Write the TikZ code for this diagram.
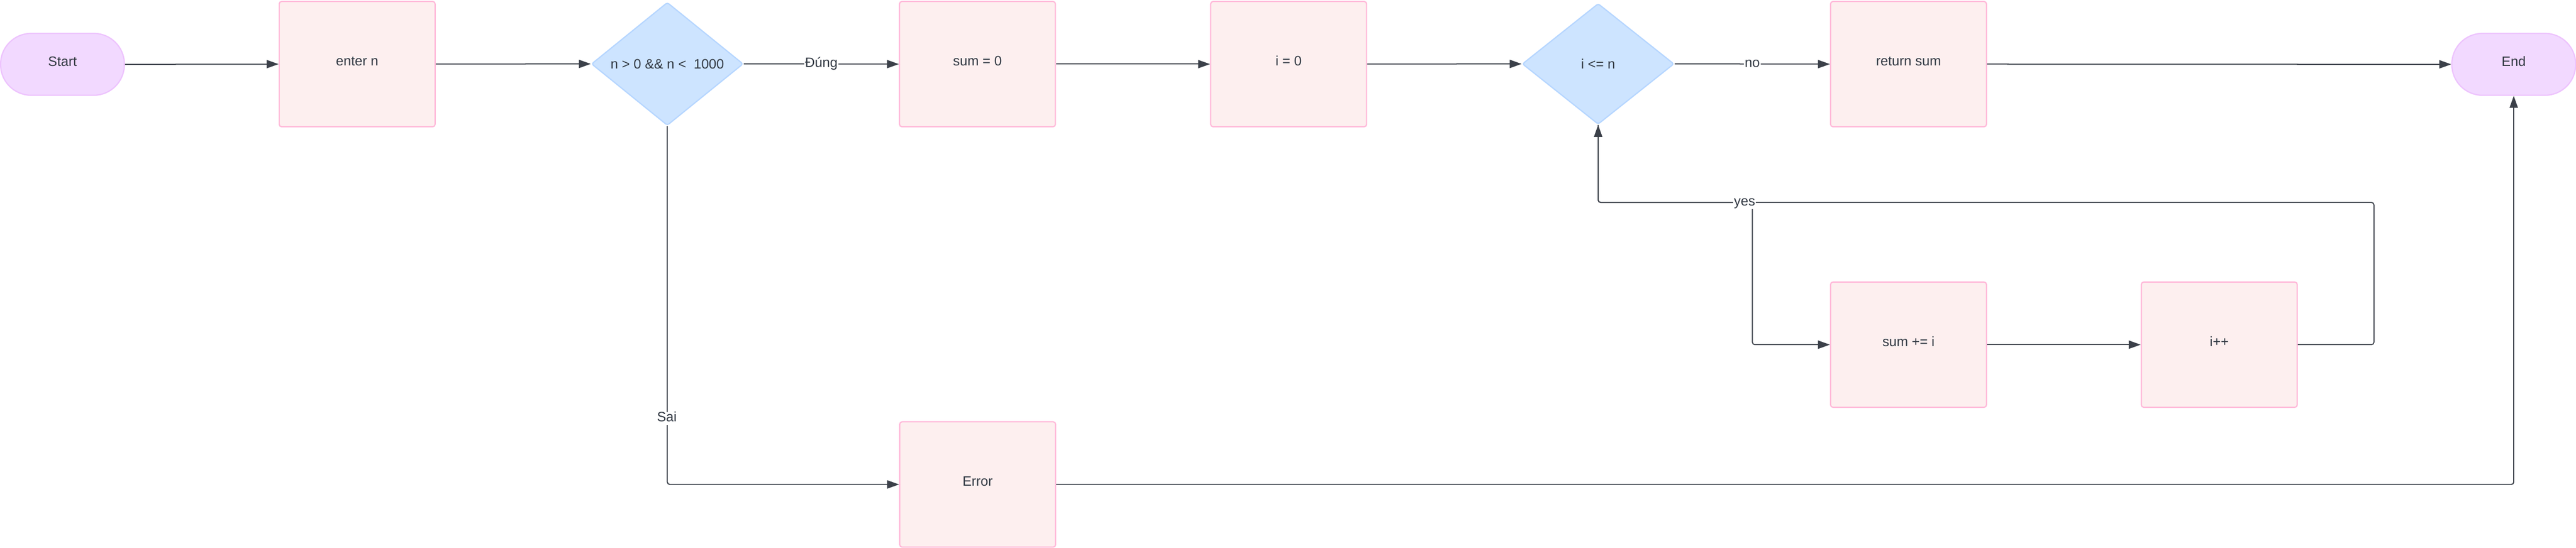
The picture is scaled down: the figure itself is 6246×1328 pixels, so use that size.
\documentclass[tikz,border=0pt]{standalone}
\usepackage{fontspec}
\setmainfont{Liberation Sans}
\usetikzlibrary{shapes.geometric,arrows.meta}
\definecolor{linec}{HTML}{3B4049}
\definecolor{txtc}{HTML}{333A44}
\definecolor{boxfill}{HTML}{FDEFEF}
\definecolor{boxdraw}{HTML}{FFB9D9}
\definecolor{diafill}{HTML}{CDE4FF}
\definecolor{diadraw}{HTML}{B6D6FF}
\definecolor{termfill}{HTML}{F2D9FF}
\definecolor{termdraw}{HTML}{EDC3FD}
\tikzset{
  x=1pt, y=-1pt,
  every node/.style={font=\fontsize{33}{38}\selectfont, text=txtc},
  procbox/.style={draw=boxdraw, fill=boxfill, line width=3pt, rounded corners=6pt,
    minimum width=378pt, minimum height=304pt, inner sep=0pt, text height=24pt, text depth=16pt},
  decision/.style={shape=diamond, draw=diadraw, fill=diafill, line width=3pt, rounded corners=5pt,
    minimum width=368pt, minimum height=293pt, inner sep=0pt},
  terminal/.style={draw=termdraw, fill=termfill, line width=3pt, rounded corners=74pt,
    minimum width=300pt, minimum height=150pt, inner sep=0pt, text height=24pt, text depth=14pt},
  conn/.style={draw=linec, line width=2.5pt, rounded corners=6pt,
    -{Triangle[length=29pt, width=20pt]}},
  elabel/.style={fill=white, inner sep=2pt, text height=22pt, text depth=6pt}
}
\begin{document}
\begin{tikzpicture}
\useasboundingbox (0,0) rectangle (6246,1328);
% nodes
\node[terminal] (start) at (151.5,156) {Start};
\node[procbox] (enter) at (866,155.5) {enter n};
\node[decision] (cond) at (1618,155) {n > 0 \&\& n <\ \ 1000};
\node[procbox] (sum0) at (2370,155.5) {sum = 0};
\node[procbox] (i0) at (3124.5,155.5) {i = 0};
\node[decision] (loop) at (3875,155) {i <= n};
\node[procbox] (ret) at (4627.5,155.5) {return sum};
\node[terminal] (end) at (6095,156) {End};
\node[procbox] (sumi) at (4627.5,836) {sum += i};
\node[procbox] (inc) at (5381,836) {i++};
\node[procbox] (err) at (2370.5,1175) {Error};
% helper coordinates
\coordinate (yc) at (3875,491);
\coordinate (yd) at (4249,491);
\coordinate (ye) at (4249,836);
\coordinate (ra) at (5756,836);
\coordinate (rb) at (5756,491);
\coordinate (sa) at (1618,1175);
\coordinate (ea) at (6095,1175);
% connectors
\draw[conn] (start.east) -- (enter.west);
\draw[conn] (enter.east) -- (cond.west);
\draw[conn] (cond.east) -- node[elabel] {Đúng} (sum0.west);
\draw[conn] (sum0.east) -- (i0.west);
\draw[conn] (i0.east) -- (loop.west);
\draw[conn] (loop.east) -- node[elabel] {no} (ret.west);
\draw[conn] (ret.east) -- (end.west);
\draw[conn] (inc.east) -- (ra) -- (rb) -- (yc) -- (loop.south);
\draw[conn] (loop.south) -- (yc) -- (yd) -- (ye) -- (sumi.west);
\node[elabel] (yeslbl) at (4230,491) {yes};
\draw[conn] (sumi.east) -- (inc.west);
\draw[conn] (cond.south) -- (sa) -- (err.west);
\node[elabel] (sailbl) at (1617,1015) {Sai};
\draw[conn] (err.east) -- (ea) -- (end.south);
\end{tikzpicture}
\end{document}
